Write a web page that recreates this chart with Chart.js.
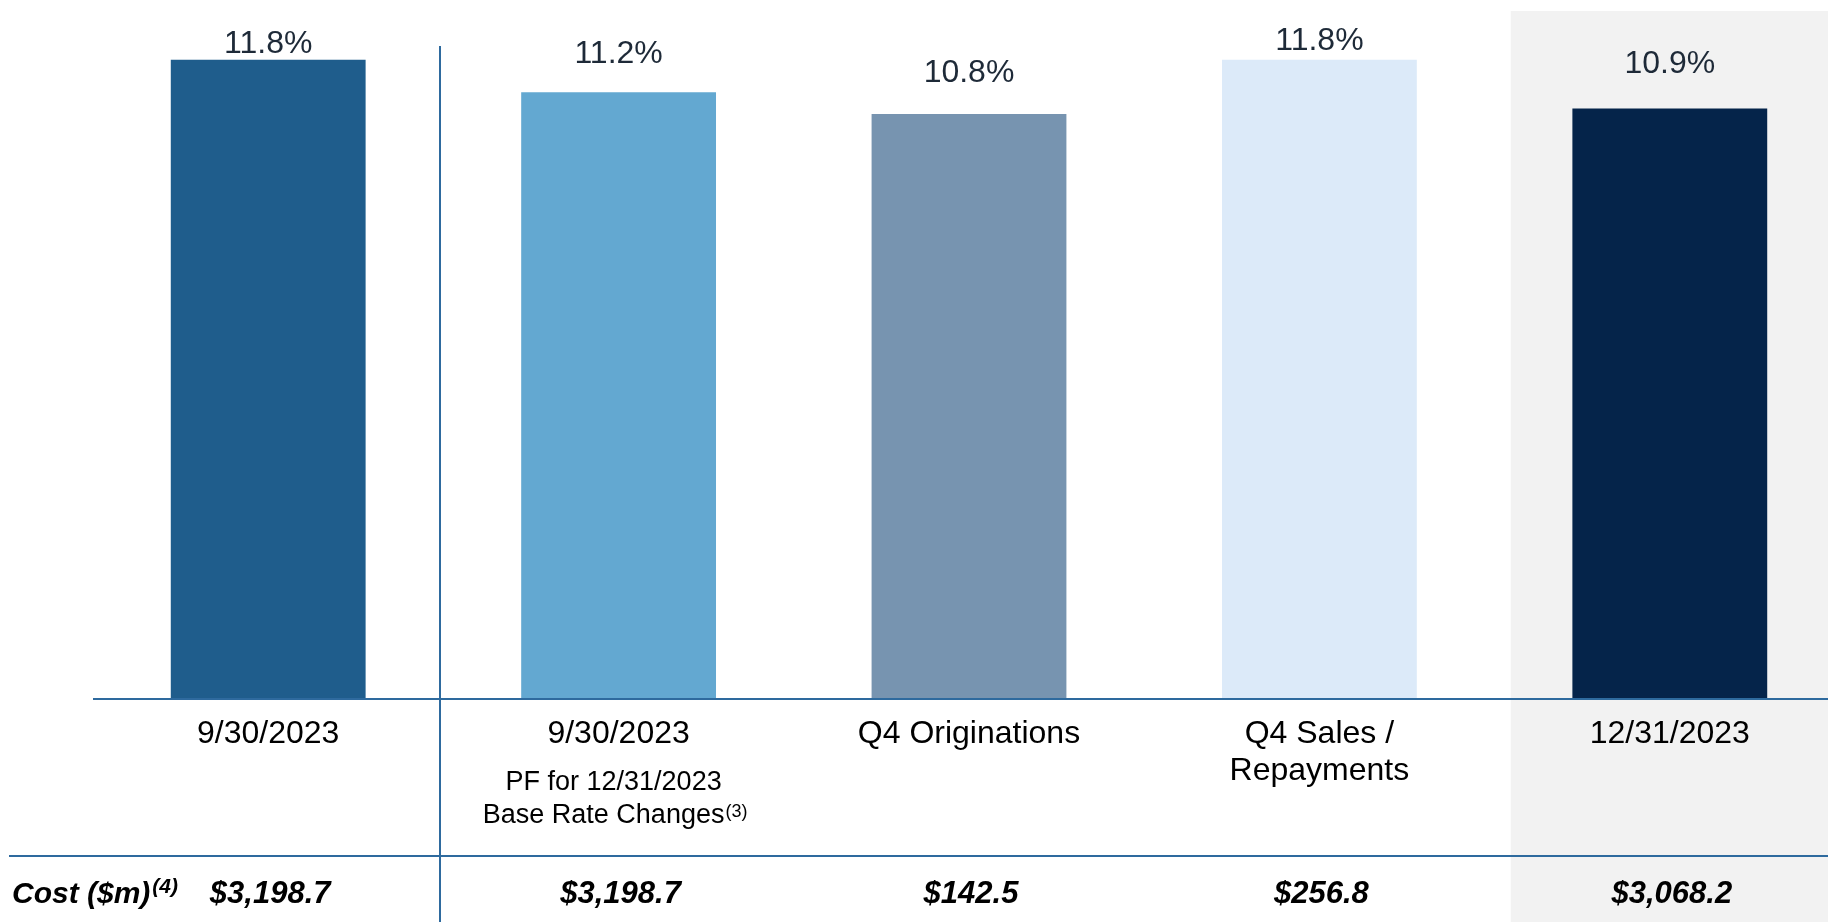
<!DOCTYPE html>
<html>
<head>
<meta charset="utf-8">
<script src="https://cdn.jsdelivr.net/npm/chart.js@4/dist/chart.umd.min.js"></script>
<style>
  html, body { margin: 0; padding: 0; background: #ffffff; overflow: hidden; width: 1828px; height: 922px; }
  canvas { display: block; }
</style>
</head>
<body>
<canvas id="c" width="1845" height="922"></canvas>
<script>
// ---- Data ----
const categories = ['9/30/2023', '9/30/2023', 'Q4 Originations', 'Q4 Sales / Repayments', '12/31/2023'];
const categoryLines = [['9/30/2023'], ['9/30/2023'], ['Q4 Originations'], ['Q4 Sales /', 'Repayments'], ['12/31/2023']];
const yieldValues = [11.8, 11.2, 10.8, 11.8, 10.9];
const valueLabels = ['11.8%', '11.2%', '10.8%', '11.8%', '10.9%'];
const subNoteLines = ['PF for 12/31/2023', 'Base Rate Changes'];
const subNoteSup = '(3)';
const costTitle = 'Cost ($m)';
const costTitleSup = '(4)';
const costLabels = ['$3,198.7', '$3,198.7', '$142.5', '$256.8', '$3,068.2'];

// ---- Styles ----
const barColors = ['#1F5D8C', '#63A8D1', '#7794B0', '#DCEAF9', '#05244A'];
const labelGaps = [7, 29, 32, 10, 36];
const lineColor = '#2E6A9E';
const FONT = '"Liberation Sans", Arial, Helvetica, sans-serif';

const decor = {
  id: 'decor',
  beforeDatasetsDraw(chart) {
    const ctx = chart.ctx;
    const x = chart.scales.x;
    const step = x.getPixelForValue(1) - x.getPixelForValue(0);
    const gx = x.getPixelForValue(4) - 0.454 * step;
    ctx.save();
    ctx.fillStyle = '#F2F2F2';
    ctx.fillRect(gx, 11, chart.width - gx, chart.height - 11);
    ctx.restore();
  },
  afterDatasetsDraw(chart) {
    const ctx = chart.ctx;
    const x = chart.scales.x;
    const y = chart.scales.y;
    const p = categories.map((_, i) => x.getPixelForValue(i));
    const step = p[1] - p[0];
    const base = y.getPixelForValue(0);
    ctx.save();
    // lines
    ctx.strokeStyle = lineColor;
    ctx.lineWidth = 2;
    ctx.beginPath();
    ctx.moveTo(93, base - 1); ctx.lineTo(chart.width, base - 1);
    ctx.stroke();
    ctx.beginPath();
    ctx.moveTo(9, 856); ctx.lineTo(chart.width, 856);
    ctx.stroke();
    const dx = Math.round(p[0] + 0.491 * step);
    ctx.beginPath();
    ctx.moveTo(dx, 46); ctx.lineTo(dx, chart.height);
    ctx.stroke();

    // value labels
    const meta = chart.getDatasetMeta(0);
    ctx.fillStyle = '#1E2A38';
    ctx.font = '32px ' + FONT;
    ctx.textAlign = 'center';
    ctx.textBaseline = 'alphabetic';
    meta.data.forEach((bar, i) => {
      ctx.fillText(valueLabels[i], bar.x, bar.y - labelGaps[i]);
    });

    // category labels
    ctx.fillStyle = '#000000';
    ctx.font = '32px ' + FONT;
    categoryLines.forEach((lines, i) => {
      lines.forEach((t, j) => ctx.fillText(t, p[i], 743 + j * 37));
    });

    // sub-note under 2nd category
    ctx.font = '27px ' + FONT;
    ctx.textAlign = 'center';
    ctx.fillText(subNoteLines[0], p[1] - 5, 790);
    ctx.textAlign = 'left';
    const w1 = ctx.measureText(subNoteLines[1]).width;
    ctx.font = '18px ' + FONT;
    const ws = ctx.measureText(subNoteSup).width;
    const sx = p[1] - 4 - (w1 + ws) / 2;
    ctx.font = '27px ' + FONT;
    ctx.fillText(subNoteLines[1], sx, 823);
    ctx.font = '18px ' + FONT;
    ctx.fillText(subNoteSup, sx + w1 + 1, 817);

    // cost row
    ctx.font = 'italic bold 30px ' + FONT;
    ctx.textAlign = 'left';
    ctx.fillText(costTitle, 12, 903);
    const wt = ctx.measureText(costTitle).width;
    ctx.font = 'italic bold 21px ' + FONT;
    ctx.fillText(costTitleSup, 12 + wt + 2, 893);
    ctx.font = 'italic bold 31px ' + FONT;
    ctx.textAlign = 'center';
    costLabels.forEach((t, i) => ctx.fillText(t, p[i] + 2, 903));
    ctx.restore();
  }
};

new Chart(document.getElementById('c'), {
  type: 'bar',
  data: {
    labels: categories,
    datasets: [{
      data: yieldValues,
      backgroundColor: barColors,
      borderWidth: 0,
      barPercentage: 0.556,
      categoryPercentage: 1.0
    }]
  },
  options: {
    responsive: false,
    animation: false,
    devicePixelRatio: 1,
    layout: { padding: { left: 93, right: 0, top: 0, bottom: 222 } },
    plugins: { legend: { display: false }, tooltip: { enabled: false } },
    scales: {
      x: { display: false, offset: true, grid: { display: false } },
      y: { display: false, min: 0, max: 12.9 }
    }
  },
  plugins: [decor]
});
</script>
</body>
</html>
